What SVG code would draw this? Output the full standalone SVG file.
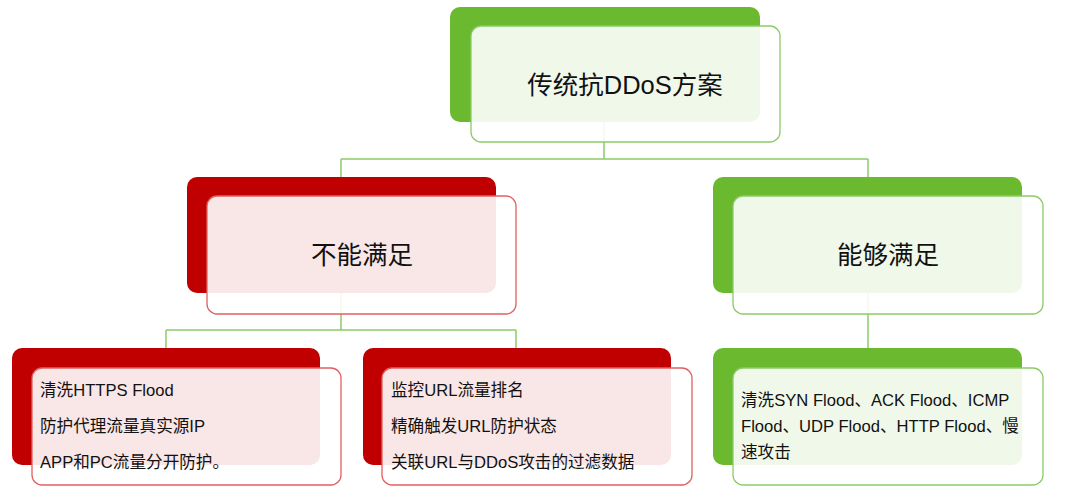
<svg xmlns="http://www.w3.org/2000/svg" width="1080" height="495" viewBox="0 0 1080 495">
<style>
.bg{fill:#fff}
.br{fill:#C00000}
.bgn{fill:#6AB92F}
.fr{fill:#fff;fill-opacity:0.9;stroke:#E06060;stroke-width:1.3}
.fg{fill:#fff;fill-opacity:0.9;stroke:#8CCB68;stroke-width:1.3}
.conn{fill:none;stroke:#8CCB68;stroke-width:1.5}
.t{font-family:"Liberation Sans","Noto Sans CJK SC",sans-serif;fill:#111}
.big{font-size:25.5px;text-anchor:middle}
.sm{font-size:16.6px}
</style>
<rect class="bg" width="1080" height="495"/>
<g id="connectors">
<path class="conn" d="M604 122V159M341 159H868M341 159V177M868 159V177M341 293V330M166 330H516M166 330V348M516 330V348M868 293V348"/>
</g>
<g id="root">
<rect class="bgn" x="450" y="7" width="310" height="115" rx="10"/>
<rect class="fg" x="471" y="26" width="309" height="116" rx="10"/>
<text class="t big" x="625" y="94">传统抗DDoS方案</text>
</g>
<g id="cannot">
<rect class="br" x="187" y="177" width="309" height="116" rx="10"/>
<rect class="fr" x="207" y="196" width="309" height="118" rx="10"/>
<text class="t big" x="362" y="264">不能满足</text>
</g>
<g id="can">
<rect class="bgn" x="713" y="177" width="309" height="116" rx="10"/>
<rect class="fg" x="733" y="196" width="310" height="118" rx="10"/>
<text class="t big" x="888" y="264">能够满足</text>
</g>
<g id="cannot-1">
<rect class="br" x="12" y="348" width="308" height="117" rx="10"/>
<rect class="fr" x="32" y="368" width="309" height="117" rx="10"/>
<text class="t sm" x="40" y="396">清洗HTTPS Flood</text>
<text class="t sm" x="40" y="432">防护代理流量真实源IP</text>
<text class="t sm" x="40" y="468">APP和PC流量分开防护。</text>
</g>
<g id="cannot-2">
<rect class="br" x="363" y="348" width="308" height="117" rx="10"/>
<rect class="fr" x="382" y="368" width="310" height="117" rx="10"/>
<text class="t sm" x="391" y="396">监控URL流量排名</text>
<text class="t sm" x="391" y="432">精确触发URL防护状态</text>
<text class="t sm" x="391" y="468">关联URL与DDoS攻击的过滤数据</text>
</g>
<g id="can-1">
<rect class="bgn" x="713" y="348" width="309" height="117" rx="10"/>
<rect class="fg" x="733" y="368" width="310" height="117" rx="10"/>
<text class="t sm" x="741" y="406">清洗SYN Flood、ACK Flood、ICMP</text>
<text class="t sm" x="741" y="432">Flood、UDP Flood、HTTP Flood、慢</text>
<text class="t sm" x="741" y="458">速攻击</text>
</g>
</svg>
